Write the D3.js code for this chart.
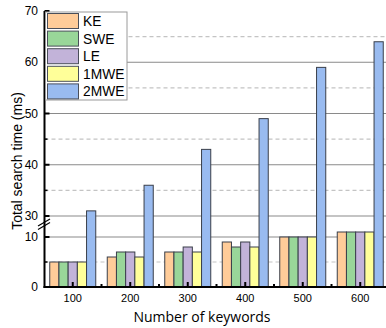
<!DOCTYPE html>
<html>
<head>
<meta charset="utf-8">
<script src="https://cdn.jsdelivr.net/npm/d3@7"></script>
<style>
  html, body { margin: 0; padding: 0; background: #fff; }
  svg { display: block; font-family: "Liberation Sans", Arial, sans-serif; }
</style>
</head>
<body>
<svg id="chart" width="386" height="328"></svg>
<script>
// Search time per method, grouped by keyword count
const categories = ["100", "200", "300", "400", "500", "600"];
const seriesNames = ["KE", "SWE", "LE", "1MWE", "2MWE"];
const KE   = [5, 6, 7, 9, 10, 11];
const SWE  = [5, 7, 7, 8, 10, 11];
const LE   = [5, 7, 8, 9, 10, 11];
const MWE1 = [5, 6, 7, 8, 10, 11];
const MWE2 = [31, 36, 43, 49, 59, 64];
const seriesValues = [KE, SWE, LE, MWE1, MWE2];
const colors = ["#FFCC99", "#99D699", "#C2B3D9", "#FFFF99", "#99BBF0"];
const lowerTicks = [0, 10];
const upperTicks = [30, 40, 50, 60, 70];

const svg = d3.select("#chart");

// Broken value axis: a lower segment and an upper segment
const yLow = d3.scaleLinear().domain([0, 10]).range([287, 237]);
const yUp  = d3.scaleLinear().domain([30, 70]).range([216, 11]);
const y = v => (v <= 12 ? yLow(v) : yUp(v));

const x0 = d3.scaleBand().domain(categories).range([44, 389])
  .paddingInner(0.2).paddingOuter(0.1);
const x1 = d3.scaleBand().domain(seriesNames).range([0, x0.bandwidth()]);

const gridRight = 386, axisX = 44.5, baseY = 287;

// Grid lines
const grid = svg.append("g");
const solidGrid = [10, 30, 40, 50, 60];
const dashedGrid = [5, 35, 45, 55, 65];
grid.selectAll("line.s").data(solidGrid).join("line")
  .attr("x1", axisX).attr("x2", gridRight)
  .attr("y1", d => y(d)).attr("y2", d => y(d))
  .attr("stroke", "#8a8a8a").attr("stroke-width", 1.2);
grid.selectAll("line.d").data(dashedGrid).join("line")
  .attr("x1", axisX).attr("x2", gridRight)
  .attr("y1", d => y(d)).attr("y2", d => y(d))
  .attr("stroke", "#c4c4c4").attr("stroke-width", 1.2)
  .attr("stroke-dasharray", "4,3");

// Bars
const rows = [];
categories.forEach((c, i) => {
  seriesNames.forEach((s, j) => rows.push({ c, s, j, v: seriesValues[j][i] }));
});
svg.append("g").selectAll("rect").data(rows).join("rect")
  .attr("x", d => x0(d.c) + x1(d.s))
  .attr("y", d => y(d.v))
  .attr("width", x1.bandwidth())
  .attr("height", d => baseY - y(d.v))
  .attr("fill", d => colors[d.j])
  .attr("stroke", "#3a3f4a").attr("stroke-width", 1);

// Axes lines
const ax = svg.append("g");
ax.append("line").attr("x1", axisX).attr("x2", axisX).attr("y1", 11).attr("y2", baseY + 1)
  .attr("stroke", "#000").attr("stroke-width", 2);
ax.append("line").attr("x1", axisX - 1).attr("x2", gridRight).attr("y1", baseY).attr("y2", baseY)
  .attr("stroke", "#000").attr("stroke-width", 2);

// Y ticks (inward) and labels
const yTickData = lowerTicks.map(v => ({ v, p: yLow(v) }))
  .concat(upperTicks.map(v => ({ v, p: yUp(v) })));
ax.selectAll("line.yt").data(yTickData).join("line")
  .attr("x1", axisX).attr("x2", axisX + 5)
  .attr("y1", d => d.p).attr("y2", d => d.p)
  .attr("stroke", "#000").attr("stroke-width", 2);
ax.selectAll("line.ym").data([5, 35, 45, 55, 65]).join("line")
  .attr("x1", axisX).attr("x2", axisX + 3)
  .attr("y1", d => y(d)).attr("y2", d => y(d))
  .attr("stroke", "#000").attr("stroke-width", 1.5);
ax.selectAll("text.yl").data(yTickData).join("text")
  .attr("x", 38).attr("y", d => d.p + 4)
  .attr("text-anchor", "end").attr("font-size", 12).attr("fill", "#000")
  .text(d => d.v);

// Break marks on the value axis
ax.selectAll("line.br").data([0, 3.5]).join("line")
  .attr("x1", 38).attr("y1", d => 226 + d)
  .attr("x2", 50).attr("y2", d => 219 + d)
  .attr("stroke", "#000").attr("stroke-width", 1.2);

// X ticks (inward), minor ticks between groups, labels
ax.selectAll("line.xt").data(categories).join("line")
  .attr("x1", d => x0(d) + x0.bandwidth() / 2).attr("x2", d => x0(d) + x0.bandwidth() / 2)
  .attr("y1", baseY).attr("y2", baseY - 5)
  .attr("stroke", "#000").attr("stroke-width", 2);
const minorX = categories.slice(0, -1).map((c, i) =>
  (x0(c) + x0(categories[i + 1]) + x0.bandwidth()) / 2);
ax.selectAll("line.xm").data(minorX).join("line")
  .attr("x1", d => d).attr("x2", d => d)
  .attr("y1", baseY).attr("y2", baseY - 3)
  .attr("stroke", "#000").attr("stroke-width", 2);
ax.selectAll("text.xl").data(categories).join("text")
  .attr("x", d => x0(d) + x0.bandwidth() / 2).attr("y", 302)
  .attr("text-anchor", "middle").attr("font-size", 11).attr("fill", "#000")
  .text(d => d);

// Axis titles
svg.append("text").attr("x", 202).attr("y", 322)
  .attr("text-anchor", "middle").attr("font-size", 14)
  .attr("font-family", "'Open Sans', sans-serif").attr("fill", "#000")
  .text("Number of keywords");
svg.append("text").attr("transform", "translate(22,161) rotate(-90)")
  .attr("text-anchor", "middle").attr("font-size", 14).attr("fill", "#000")
  .text("Total search time (ms)");

// Legend
const lg = svg.append("g");
lg.append("rect").attr("x", 45.5).attr("y", 12).attr("width", 81.5).attr("height", 88)
  .attr("fill", "#fff").attr("stroke", "#9a9a9a").attr("stroke-width", 1);
const li = lg.selectAll("g.it").data(seriesNames).join("g")
  .attr("transform", (d, i) => `translate(0,${13.5 + i * 17.6})`);
li.append("rect").attr("x", 47.5).attr("y", 0).attr("width", 31).attr("height", 15)
  .attr("fill", (d, i) => colors[i]).attr("stroke", "#4a4f5a").attr("stroke-width", 1);
li.append("text").attr("x", 83).attr("y", 12.5).attr("font-size", 13.8).attr("fill", "#000")
  .text(d => d);
</script>
</body>
</html>
